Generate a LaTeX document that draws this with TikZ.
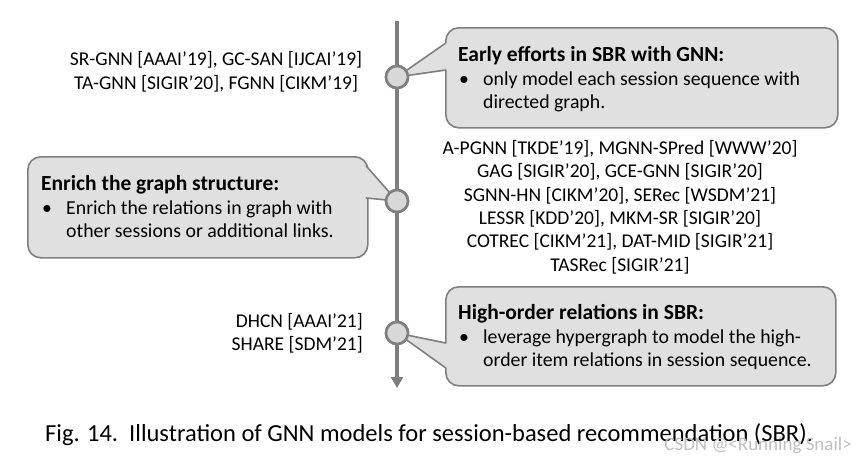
\documentclass[tikz,border=0pt]{standalone}
\usepackage{fontspec}
\setmainfont{Carlito}
\usetikzlibrary{calc,arrows.meta}
\definecolor{boxgray}{RGB}{224,224,224}
\definecolor{linegray}{RGB}{127,127,127}
\definecolor{dotgray}{RGB}{216,216,216}
\tikzset{
	callout/.style={draw=linegray, fill=boxgray, line width=1.6pt, rounded corners=13pt, anchor=north west, inner sep=0pt},
	pointer/.style={draw=linegray, line width=1.6pt, line join=round},
	dot/.style={circle, draw=linegray, fill=dotgray, line width=2.6pt, minimum size=22pt, inner sep=0pt},
	head/.style={anchor=base west, inner sep=0pt, font=\fontsize{21.5}{23}\selectfont\bfseries},
	body/.style={anchor=base west, inner sep=0pt, font=\fontsize{19.8}{23}\selectfont},
	refs/.style={inner sep=0pt, font=\fontsize{19.5}{23.3}\selectfont},
}
\begin{document}
\begin{tikzpicture}[x=1pt, y=-1pt, line cap=round, >={Triangle[length=11pt,width=12pt]}]
	\useasboundingbox (0,0) rectangle (868,467);
	% time axis
	\coordinate (top) at (397,21);
	\coordinate (bot) at (397,388);
	\draw[->, linegray, line width=3.6pt, line cap=butt] (top) -- (bot);
	
	% the three callouts
	\node[callout, minimum width=392pt, minimum height=100pt] (b1) at (445,27) {};
	\node[callout, minimum width=340pt, minimum height=101pt] (b2) at (27,156) {};
	\node[callout, minimum width=390pt, minimum height=99pt] (b3) at (445,286) {};
	
	\node[dot] (c1) at (397,77) {};
	\node[dot] (c2) at (397,201) {};
	\node[dot] (c3) at (397,333) {};
	
	% pointers of the callouts
	\coordinate (b1a) at (445.8,43);  \coordinate (b1b) at (445.8,70);
	\coordinate (b2a) at (366.2,166); \coordinate (b2b) at (366.2,198);
	\coordinate (b3a) at (445.8,343); \coordinate (b3b) at (445.8,368);
	\fill[boxgray] (c1.center) -- (b1a) -- ++(4,0) -- ([xshift=4pt]b1b) -- (b1b) -- cycle;
	\fill[boxgray] (c2.center) -- (b2a) -- ++(-4,0) -- ([xshift=-4pt]b2b) -- (b2b) -- cycle;
	\fill[boxgray] (c3.center) -- (b3a) -- ++(4,0) -- ([xshift=4pt]b3b) -- (b3b) -- cycle;
	\draw[pointer] (b1a) -- (c1.center) -- (b1b);
	\draw[pointer] (b2a) -- (c2.center) -- (b2b);
	\draw[pointer] (b3a) -- (c3.center) -- (b3b);
	\node[dot] at (c1) {};
	\node[dot] at (c2) {};
	\node[dot] at (c3) {};
	
	% texts in the callouts
	\node[head] (h1) at (458,61) {Early efforts in SBR with GNN:};
	\node[body] (u1) at (459,85) {\textbullet};
	\node[body] (s1) at (483,85) {only model each session sequence with};
	\node[body] (s1b) at (483,108) {directed graph.};
	
	\node[head] (h2) at (41,190) {Enrich the graph structure:};
	\node[body] (u2) at (42,214) {\textbullet};
	\node[body] (s2) at (66,214) {Enrich the relations in graph with};
	\node[body] (s2b) at (66,237) {other sessions or additional links.};
	
	\node[head] (h3) at (458,319) {High-order relations in SBR:};
	\node[body] (u3) at (459,343) {\textbullet};
	\node[body] (s3) at (483,343) {leverage hypergraph to model the high-};
	\node[body] (s3b) at (483,366) {order item relations in session sequence.};
	
	% models along the axis (base = last line)
	\node[refs, align=center, anchor=base] (m1) at (216,89) {SR-GNN [AAAI’19], GC-SAN [IJCAI’19]\\TA-GNN [SIGIR’20], FGNN [CIKM’19]};
	\node[refs, align=center, anchor=base] (m2) at (620,271) {A-PGNN [TKDE’19], MGNN-SPred [WWW’20]\\GAG [SIGIR’20], GCE-GNN [SIGIR’20]\\SGNN-HN [CIKM’20], SERec [WSDM’21]\\LESSR [KDD’20], MKM-SR [SIGIR’20]\\COTREC [CIKM’21], DAT-MID [SIGIR’21]\\TASRec [SIGIR’21]};
	\node[refs, align=right, anchor=base east, font=\fontsize{19.5}{22.5}\selectfont] (m3) at (363,350) {DHCN [AAAI’21]\\SHARE [SDM’21]};
	
	% caption
	\node[inner sep=0pt, anchor=base west, font=\fontsize{24.5}{26}\selectfont] (cap) at (45,441) {Fig. 14.\ \ Illustration of GNN models for session-based recommendation (SBR).};
	\node[inner sep=0pt, anchor=base east, text=black!25, font=\fontsize{19}{20}\selectfont] (wm) at (852,450) {CSDN @<Running Snail>};
\end{tikzpicture}
\end{document}
